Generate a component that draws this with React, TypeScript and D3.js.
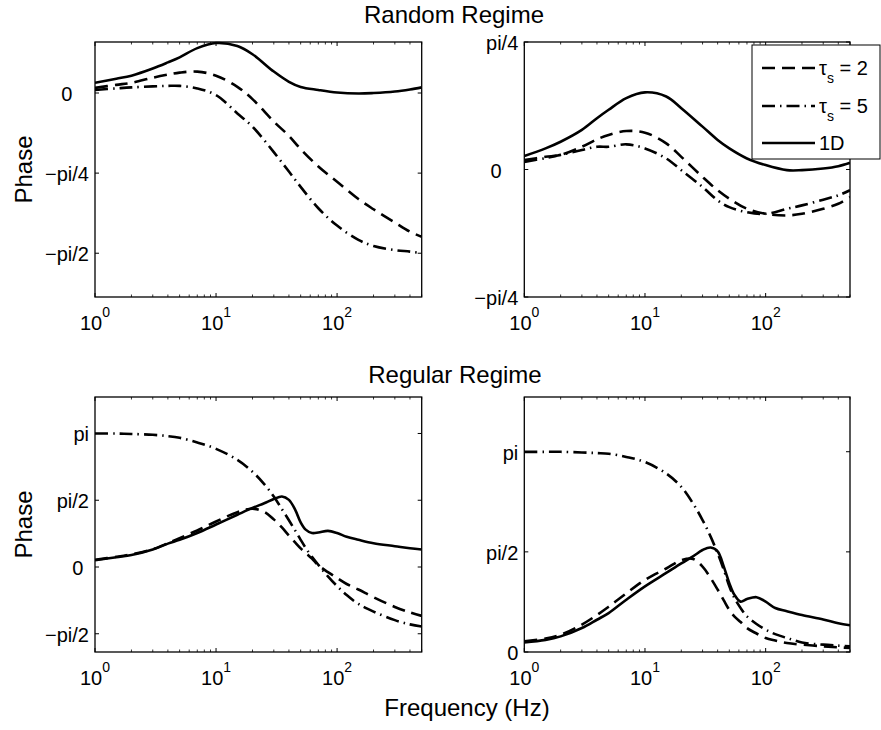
// Phase response of the four cases (random / regular regime), log-frequency axes.
import * as d3 from "d3";

const FONT = "Liberation Sans, Arial, Helvetica, sans-serif";
const PI = Math.PI;

// frequencies (Hz) at which the curves were read
const FREQ_RANDOM = [1, 1.5, 2, 3, 4, 5, 7, 10, 15, 20, 30, 40, 50, 70, 100, 150, 200, 300, 400, 500];
const FREQ_REGULAR = [1, 1.5, 2, 3, 4, 5, 7, 10, 15, 20, 25, 30, 35, 40, 45, 50, 55, 62, 70, 84, 100, 120, 150, 200, 300, 400, 500];

// Random regime, left panel (rad)
const RANDOM_L_TAU2 = [0.05, 0.08, 0.1, 0.15, 0.18, 0.2, 0.21, 0.17, 0.06, -0.06, -0.28, -0.42, -0.55, -0.72, -0.87, -1.04, -1.14, -1.27, -1.36, -1.41];
const RANDOM_L_TAU5 = [0.03, 0.045, 0.055, 0.065, 0.07, 0.07, 0.045, -0.02, -0.2, -0.33, -0.58, -0.77, -0.92, -1.13, -1.3, -1.44, -1.5, -1.54, -1.555, -1.57];
const RANDOM_L_1D = [0.1, 0.14, 0.17, 0.24, 0.3, 0.35, 0.44, 0.49, 0.46, 0.38, 0.21, 0.11, 0.06, 0.03, 0.005, -0.005, 0.0, 0.015, 0.035, 0.055];

// Random regime, right panel (rad)
const RANDOM_R_TAU2 = [0.058, 0.078, 0.09, 0.14, 0.186, 0.213, 0.237, 0.227, 0.161, 0.078, -0.046, -0.128, -0.18, -0.242, -0.273, -0.283, -0.273, -0.242, -0.211, -0.17];
const RANDOM_R_TAU5 = [0.047, 0.07, 0.09, 0.12, 0.14, 0.14, 0.155, 0.13, 0.068, -0.004, -0.108, -0.19, -0.232, -0.263, -0.273, -0.242, -0.221, -0.186, -0.159, -0.128];
const RANDOM_R_1D = [0.083, 0.13, 0.171, 0.244, 0.316, 0.368, 0.44, 0.475, 0.45, 0.378, 0.264, 0.182, 0.13, 0.068, 0.027, -0.004, -0.004, 0.006, 0.02, 0.041];

// Regular regime, left panel (rad)
const REGULAR_L_TAU2 = [0.17, 0.24, 0.3, 0.42, 0.56, 0.68, 0.86, 1.07, 1.29, 1.37, 1.3, 1.12, 0.93, 0.74, 0.58, 0.44, 0.33, 0.2, 0.04, -0.12, -0.26, -0.4, -0.53, -0.71, -0.94, -1.07, -1.15];
const REGULAR_L_TAU5 = [3.14, 3.14, 3.13, 3.11, 3.08, 3.04, 2.93, 2.78, 2.52, 2.24, 1.95, 1.66, 1.36, 1.1, 0.86, 0.64, 0.45, 0.24, 0.05, -0.22, -0.45, -0.66, -0.87, -1.05, -1.25, -1.35, -1.4];
const REGULAR_L_1D = [0.157, 0.23, 0.28, 0.41, 0.55, 0.64, 0.8, 1.0, 1.23, 1.39, 1.5, 1.6, 1.66, 1.58, 1.35, 1.05, 0.88, 0.8, 0.81, 0.85, 0.8, 0.71, 0.64, 0.56, 0.49, 0.44, 0.41];

// Regular regime, right panel (rad)
const REGULAR_R_TAU2 = [0.167, 0.21, 0.27, 0.43, 0.58, 0.71, 0.92, 1.13, 1.31, 1.44, 1.46, 1.34, 1.16, 0.98, 0.81, 0.66, 0.56, 0.47, 0.375, 0.29, 0.22, 0.18, 0.14, 0.115, 0.089, 0.073, 0.063];
const REGULAR_R_TAU5 = [3.14, 3.14, 3.14, 3.13, 3.12, 3.11, 3.06, 2.98, 2.8, 2.59, 2.33, 2.07, 1.81, 1.55, 1.29, 1.03, 0.85, 0.69, 0.56, 0.44, 0.35, 0.28, 0.22, 0.15, 0.115, 0.1, 0.089];
const REGULAR_R_1D = [0.151, 0.19, 0.245, 0.376, 0.506, 0.61, 0.82, 1.03, 1.24, 1.39, 1.5, 1.6, 1.64, 1.58, 1.34, 1.08, 0.9, 0.79, 0.83, 0.86, 0.79, 0.69, 0.64, 0.58, 0.51, 0.45, 0.42];

const SERIES_NAMES = ["τs = 2", "τs = 5", "1D"];
const X_MAJOR = [1, 10, 100];
const X_EXP = ["0", "1", "2"];

// MATLAB char-matrix tick labels (trailing blanks kept)
const TL_TICKS = [-PI / 2, -PI / 4, 0];
const TL_LABELS = ["−pi/2", "−pi/4", "0   "];
const TR_TICKS = [-PI / 4, 0, PI / 4];
const TR_LABELS = ["−pi/4", "0   ", "pi/4"];
const BL_TICKS = [-PI / 2, 0, PI / 2, PI];
const BL_LABELS = ["−pi/2", "0 ", "pi/2", "pi"];
const BR_TICKS = [0, PI / 2, PI];
const BR_LABELS = ["0", "pi/2", "pi"];

const DASH = ["13 7", "13 5 1.5 5", null];
const LW = 2.6;

const COLS = [{ x0: 95, x1: 421.7 }, { x0: 524.3, x1: 850 }];
const ROWS = [{ y0: 42, y1: 297 }, { y0: 397, y1: 652 }];

const minorTicks: number[] = [];
for (const d of X_MAJOR) for (let k = 2; k <= 9; k++) if (d * k <= 500) minorTicks.push(d * k);

function Panel({ id, col, row, freq, series, yDomain, yTicks, yLabels, ylabel }: any) {
  const x = d3.scaleLog().domain([1, 500]).range([col.x0, col.x1]);
  const y = d3.scaleLinear().domain(yDomain).range([row.y1, row.y0]);
  const line = d3
    .line<number>()
    .x((_, i) => x(freq[i]))
    .y((d) => y(d))
    .curve(d3.curveCatmullRom.alpha(0.5));
  const w = col.x1 - col.x0;
  const h = row.y1 - row.y0;
  return (
    <g>
      <defs>
        <clipPath id={id}>
          <rect x={col.x0} y={row.y0 - 1} width={w} height={h + 2} />
        </clipPath>
      </defs>
      <g clipPath={`url(#${id})`}>
        {series.map((s: number[], i: number) => (
          <path
            key={i}
            d={line(s) || ""}
            fill="none"
            stroke="#000"
            strokeWidth={LW}
            strokeDasharray={DASH[i] || undefined}
            strokeLinejoin="round"
          />
        ))}
      </g>
      <rect x={col.x0} y={row.y0} width={w} height={h} fill="none" stroke="#000" strokeWidth={1.3} />
      {X_MAJOR.map((v) => (
        <g key={"M" + v}>
          <line x1={x(v)} x2={x(v)} y1={row.y1} y2={row.y1 - 4} stroke="#000" />
          <line x1={x(v)} x2={x(v)} y1={row.y0} y2={row.y0 + 4} stroke="#000" />
        </g>
      ))}
      {minorTicks.map((v) => (
        <g key={"m" + v}>
          <line x1={x(v)} x2={x(v)} y1={row.y1} y2={row.y1 - 2.5} stroke="#000" strokeWidth={0.8} />
          <line x1={x(v)} x2={x(v)} y1={row.y0} y2={row.y0 + 2.5} stroke="#000" strokeWidth={0.8} />
        </g>
      ))}
      {yTicks.map((v: number, i: number) => (
        <g key={"y" + i}>
          <line x1={col.x0} x2={col.x0 + 4} y1={y(v)} y2={y(v)} stroke="#000" />
          <line x1={col.x1} x2={col.x1 - 4} y1={y(v)} y2={y(v)} stroke="#000" />
          <text
            x={col.x0 - 6}
            y={y(v)}
            dy="0.4em"
            textAnchor="end"
            fontSize={20}
            style={{ whiteSpace: "pre" }}
          >
            {yLabels[i]}
          </text>
        </g>
      ))}
      {X_MAJOR.map((v, i) => (
        <text key={"xl" + v} x={x(v)} y={row.y1 + 33} textAnchor="middle" fontSize={20}>
          10
          <tspan dy={-13} fontSize={14}>
            {X_EXP[i]}
          </tspan>
        </text>
      ))}
      {ylabel && (
        <text
          transform={`translate(31.5,${(row.y0 + row.y1) / 2}) rotate(-90)`}
          textAnchor="middle"
          fontSize={24}
        >
          Phase
        </text>
      )}
    </g>
  );
}

function Legend() {
  const x0 = 752;
  const rows = [68, 106, 143];
  return (
    <g>
      <rect x={x0} y={45} width={128} height={114} fill="#fff" stroke="#000" strokeWidth={1} />
      {SERIES_NAMES.map((name, i) => (
        <g key={name}>
          <line
            x1={762}
            x2={815}
            y1={rows[i]}
            y2={rows[i]}
            stroke="#000"
            strokeWidth={LW}
            strokeDasharray={DASH[i] || undefined}
          />
          {name.startsWith("τ") ? (
            <text x={819} y={rows[i]} dy="0.35em" fontSize={20}>
              τ
              <tspan dy={8} fontSize={14}>
                {name[1]}
              </tspan>
              <tspan dy={-8} style={{ whiteSpace: "pre" }}>
                {name.slice(2)}
              </tspan>
            </text>
          ) : (
            <text x={819} y={rows[i]} dy="0.35em" fontSize={20}>
              {name}
            </text>
          )}
        </g>
      ))}
    </g>
  );
}

export default function App() {
  return (
    <svg
      width={881}
      height={730}
      viewBox="0 0 881 730"
      style={{ position: "absolute", left: 0, top: 0, background: "#fff" }}
      fontFamily={FONT}
      fill="#000"
    >
      <rect width={881} height={730} fill="#fff" />
      <Panel
        id="cTL"
        col={COLS[0]}
        row={ROWS[0]}
        freq={FREQ_RANDOM}
        series={[RANDOM_L_TAU2, RANDOM_L_TAU5, RANDOM_L_1D]}
        yDomain={[-2, 0.5]}
        yTicks={TL_TICKS}
        yLabels={TL_LABELS}
        ylabel
      />
      <Panel
        id="cTR"
        col={COLS[1]}
        row={ROWS[0]}
        freq={FREQ_RANDOM}
        series={[RANDOM_R_TAU2, RANDOM_R_TAU5, RANDOM_R_1D]}
        yDomain={[-PI / 4, PI / 4]}
        yTicks={TR_TICKS}
        yLabels={TR_LABELS}
      />
      <Panel
        id="cBL"
        col={COLS[0]}
        row={ROWS[1]}
        freq={FREQ_REGULAR}
        series={[REGULAR_L_TAU2, REGULAR_L_TAU5, REGULAR_L_1D]}
        yDomain={[-2, 4]}
        yTicks={BL_TICKS}
        yLabels={BL_LABELS}
        ylabel
      />
      <Panel
        id="cBR"
        col={COLS[1]}
        row={ROWS[1]}
        freq={FREQ_REGULAR}
        series={[REGULAR_R_TAU2, REGULAR_R_TAU5, REGULAR_R_1D]}
        yDomain={[0, 4]}
        yTicks={BR_TICKS}
        yLabels={BR_LABELS}
      />
      <Legend />
      <text x={454} y={23} textAnchor="middle" fontSize={24}>
        Random Regime
      </text>
      <text x={455} y={383} textAnchor="middle" fontSize={24}>
        Regular Regime
      </text>
      <text x={467} y={716} textAnchor="middle" fontSize={24}>
        Frequency (Hz)
      </text>
    </svg>
  );
}
